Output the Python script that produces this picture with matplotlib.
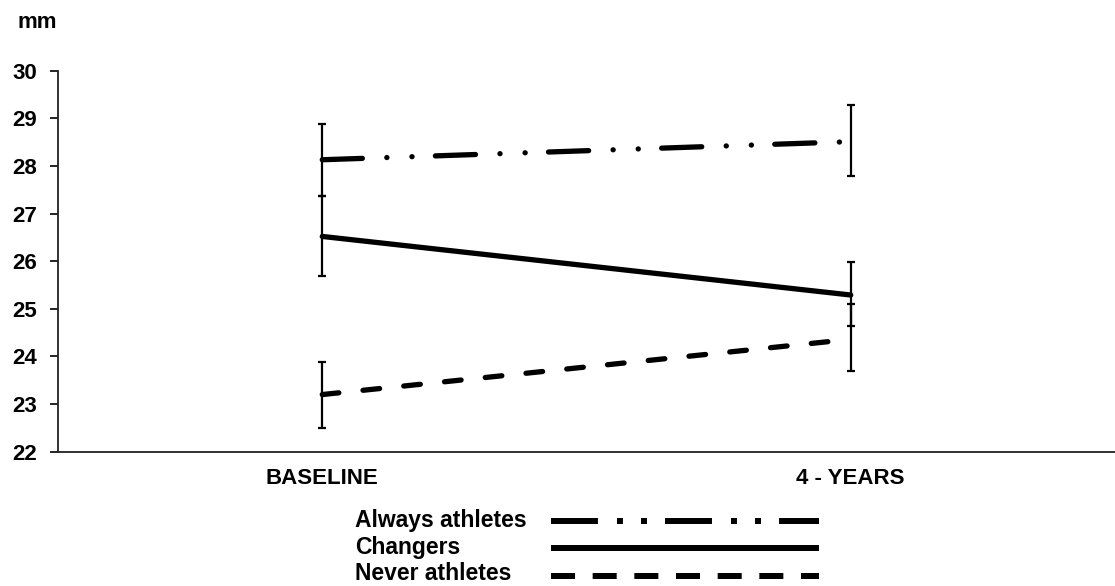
import matplotlib
matplotlib.use("Agg")
import matplotlib.pyplot as plt
from matplotlib.lines import Line2D

plt.rcParams['font.family'] = ['Liberation Sans', 'DejaVu Sans']
plt.rcParams['font.weight'] = 'bold'
plt.rcParams['lines.scale_dashes'] = False

# ---- data ----
timepoints = ["BASELINE", "4 - YEARS"]
series_names = ["Always athletes", "Changers", "Never athletes"]
always_mean = [28.13, 28.51]
always_err_low = [0.77, 0.73]
always_err_high = [0.75, 0.77]
changers_mean = [26.52, 25.29]
changers_err_low = [0.84, 0.66]
changers_err_high = [0.84, 0.69]
never_mean = [23.20, 24.36]
never_err_low = [0.70, 0.66]
never_err_high = [0.69, 0.74]
y_ticks = [22, 23, 24, 25, 26, 27, 28, 29, 30]
y_unit = "mm"

W, H = 1115, 586
fig = plt.figure(figsize=(W / 100, H / 100), dpi=100)

def fx(px):
    return px / W

def fy(py):
    return 1 - py / H

ax = fig.add_axes([fx(58), fy(451.7), 1 - fx(58), fy(70.7) - fy(451.7)])

x = list(range(len(timepoints)))
LW = 3.8
styles = [
    dict(dashes=(28.9, 17.6, 0.1, 18.0, 0.1, 16.8)),
    dict(),
    dict(dashes=(12.0, 17.5)),
]
means = [always_mean, changers_mean, never_mean]
lows = [always_err_low, changers_err_low, never_err_low]
highs = [always_err_high, changers_err_high, never_err_high]

for m, lo, hi, st in zip(means, lows, highs, styles):
    ln, = ax.plot(x, m, color='black', lw=LW, solid_capstyle='round',
                  dash_capstyle='round', zorder=3)
    if 'dashes' in st:
        ln.set_dashes(st['dashes'])
    ax.errorbar(x, m, yerr=[lo, hi], fmt='none', ecolor='black',
                elinewidth=1.6, capsize=3.2, capthick=1.6, zorder=4)

ax.set_xlim(-0.5, 1.5)
ax.set_ylim(22, 30)
ax.set_yticks(y_ticks)
ax.set_yticklabels([str(t) for t in y_ticks])
ax.set_xticks(x)
ax.set_xticklabels(timepoints)
ax.tick_params(axis='y', length=6, width=1.2, pad=9, labelsize=16)
ax.tick_params(axis='x', length=0, pad=12, labelsize=16)
for s in ['top', 'right']:
    ax.spines[s].set_visible(False)
for s in ['left', 'bottom']:
    ax.spines[s].set_linewidth(1.3)
    ax.spines[s].set_color('#222222')

fig.text(fx(37), fy(23), y_unit, ha='center', va='center', fontsize=16,
         fontweight='bold')

# ---- legend (text left, line sample right) ----
leg_line_y = [521, 548, 576]
leg_text_base = [527, 554, 580]
leg_dashes = [(33.8, 13.7, 4.3, 13.0, 4.3, 13.0), None, (17.3, 12.7)]
for name, yy, yb, dsh in zip(series_names, leg_line_y, leg_text_base, leg_dashes):
    fig.text(fx(355), fy(yb), name, ha='left', va='baseline', fontsize=16.5,
             fontweight='bold')
    l = Line2D([fx(551), fx(819)], [fy(yy), fy(yy)], transform=fig.transFigure,
               color='black', lw=4.3, solid_capstyle='butt',
               dash_capstyle='butt')
    if dsh is not None:
        l.set_dashes(dsh)
    fig.add_artist(l)

fig.savefig("out.png", dpi=100)
